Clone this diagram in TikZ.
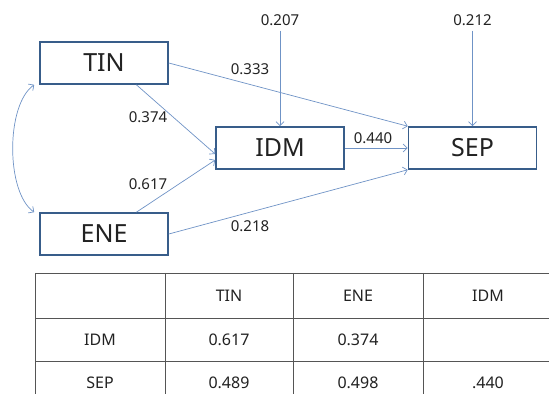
\documentclass[tikz,border=0pt]{standalone}
\usepackage{fontspec}
\setmainfont{Noto Sans}
\usetikzlibrary{arrows.meta,positioning,calc}
\definecolor{boxblue}{HTML}{385D8A}
\definecolor{pathblue}{HTML}{6F93C6}
\definecolor{inkgray}{HTML}{222222}
\definecolor{rulegray}{HTML}{555555}

\begin{document}
\begin{tikzpicture}[x=1pt, y=1pt,
    var/.style={draw=boxblue, line width=1.6pt, fill=white, minimum width=128pt, minimum height=42pt, inner sep=0pt, font=\fontsize{25}{25}\selectfont, text=inkgray},
    arrow/.style={-{Straight Barb[length=4pt,width=8pt]}, line width=0.7pt, color=pathblue},
    coef/.style={font=\fontsize{15}{15}\selectfont, text=inkgray, inner sep=1pt},
    cell/.style={font=\fontsize{16}{16}\selectfont, text=inkgray},
    rule/.style={line width=0.8pt, color=rulegray},
]
\useasboundingbox (0,0) rectangle (549,394);

% path model
\node[var] (TIN) at (104,331) {TIN};
\node[var] (ENE) at (104,160) {ENE};
\node[var] (IDM) at (280,246) {IDM};
\node[var] (SEP) at (472.5,246) {SEP};

\node[coef, inner sep=5pt] (e1) at (280,374) {0.207};
\node[coef, inner sep=5pt] (e2) at (472.5,374) {0.212};

\draw[arrow] (e1) -- (IDM);
\draw[arrow] (e2) -- (SEP);
\draw[arrow] (TIN.east) -- (SEP.north west);
\draw[arrow] ($(TIN.south)!0.5!(TIN.south east)$) -- ([yshift=-6pt]IDM.west);
\draw[arrow] ($(ENE.north)!0.5!(ENE.north east)$) -- ([yshift=-12pt]IDM.west);
\draw[arrow] (ENE.east) -- (SEP.south west);
\draw[arrow] (IDM.east) -- (SEP.west);

\coordinate (tinside) at ([xshift=-5pt]TIN.south west);
\coordinate (eneside) at ([xshift=-5pt]ENE.north west);
\draw[arrow, {Straight Barb[length=4pt,width=8pt]}-{Straight Barb[length=4pt,width=8pt]}] (tinside) to[out=215, in=145, looseness=0.7] (eneside);

\node[coef] (c1) at (250,325) {0.333};
\node[coef] (c2) at (148,277) {0.374};
\node[coef] (c3) at (148,210) {0.617};
\node[coef] (c4) at (250,168) {0.218};
\node[coef] (c5) at (373,256) {0.440};

% table
\draw[rule] (35,121) -- (549,121);
\draw[rule] (35,76) -- (549,76);
\draw[rule] (35,33) -- (549,33);
\foreach \x in {35,165,293,423}
  \draw[rule] (\x,121) -- (\x,0);

\node[cell] (hTIN) at (229,98.5) {TIN};
\node[cell] (hENE) at (358,98.5) {ENE};
\node[cell] (hIDM) at (488,98.5) {IDM};
\node[cell] (rIDM) at (100,54.5) {IDM};
\node[cell] (rSEP) at (100,11) {SEP};
\node[cell] (v11) at (229,54.5) {0.617};
\node[cell] (v12) at (358,54.5) {0.374};
\node[cell] (v21) at (229,11) {0.489};
\node[cell] (v22) at (358,11) {0.498};
\node[cell] (v23) at (488,11) {.440};
\end{tikzpicture}
\end{document}
